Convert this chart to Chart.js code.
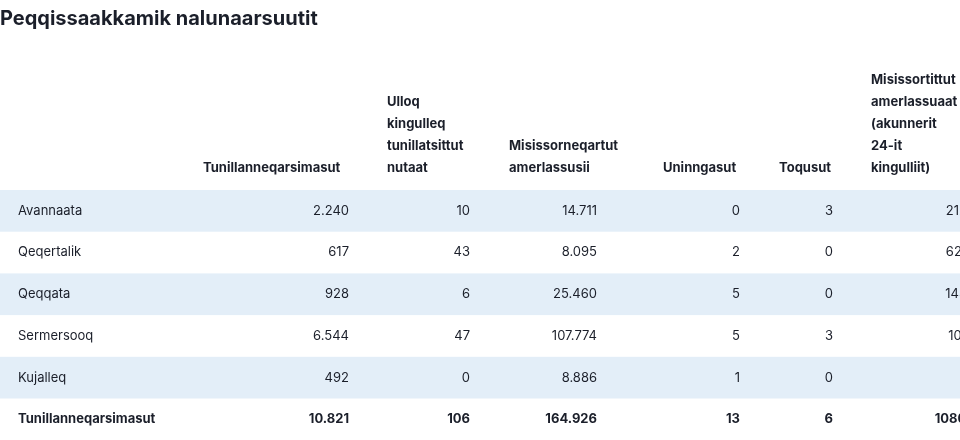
<!DOCTYPE html>
<html>
<head>
<meta charset="utf-8">
<script src="https://cdn.jsdelivr.net/npm/chart.js@4"></script>
<style>
  html, body { margin: 0; padding: 0; background: #fff; overflow: hidden; }
  #wrap { width: 960px; height: 440px; position: relative; }
</style>
</head>
<body>
<div id="wrap"><canvas id="tbl"></canvas></div>
<script>
// table data
const title = 'Peqqissaakkamik nalunaarsuutit';
const headers = [
  ['Tunillanneqarsimasut'],
  ['Ulloq', 'kingulleq', 'tunillatsittut', 'nutaat'],
  ['Misissorneqartut', 'amerlassusii'],
  ['Uninngasut'],
  ['Toqusut'],
  ['Misissortittut', 'amerlassuaat', '(akunnerit', '24-it', 'kingulliit)']
];
const regions = ['Avannaata', 'Qeqertalik', 'Qeqqata', 'Sermersooq', 'Kujalleq'];
const tunillanneqarsimasut = [2240, 617, 928, 6544, 492];
const ulloqKingulleq = [10, 43, 6, 47, 0];
const misissorneqartut = [14711, 8095, 25460, 107774, 8886];
const uninngasut = [0, 2, 5, 5, 1];
const toqusut = [3, 0, 0, 3, 0];
const misissortittut = [2128, 6215, 1436, 1021, 0];
const totalLabel = 'Tunillanneqarsimasut';

const columns = [tunillanneqarsimasut, ulloqKingulleq, misissorneqartut, uninngasut, toqusut, misissortittut];
const totals = columns.map(c => c.reduce((a, b) => a + b, 0));

// layout (pixels)
const colLeft = [203, 387, 509, 663, 779, 871];
const colRight = [349, 470, 597, 740, 833, 975];
const rowTop = 190, rowH = 41.7;
const fmt = v => v.toLocaleString('de-DE');
const font = '"Inter", "Noto Sans", sans-serif';

const tablePlugin = {
  id: 'table',
  afterDraw(chart) {
    const ctx = chart.ctx;
    ctx.save();
    ctx.fillStyle = '#1b1f2a';
    ctx.font = 'bold 20px ' + font;
    ctx.textBaseline = 'alphabetic';
    ctx.textAlign = 'left';
    ctx.fillText(title, 0, 25);

    // headers, bottom aligned
    ctx.font = 'bold 13px ' + font;
    headers.forEach((lines, i) => {
      lines.forEach((ln, j) => {
        const y = 172 - (lines.length - 1 - j) * 22;
        ctx.fillText(ln, colLeft[i], y);
      });
    });

    const rows = regions.length;
    for (let r = 0; r <= rows; r++) {
      const y0 = rowTop + r * rowH;
      if (r < rows && r % 2 === 0) {
        ctx.fillStyle = '#e3eef8';
        ctx.fillRect(0, y0, 960, rowH);
      }
      const isTotal = r === rows;
      ctx.fillStyle = '#1b1f2a';
      ctx.font = (isTotal ? 'bold ' : '') + '13px ' + font;
      ctx.textBaseline = 'middle';
      const yc = y0 + rowH / 2;
      ctx.textAlign = 'left';
      ctx.fillText(isTotal ? totalLabel : regions[r], 18, yc);
      ctx.textAlign = 'right';
      columns.forEach((col, c) => {
        const v = isTotal ? totals[c] : col[r];
        const s = c === 5 ? String(v) : fmt(v);
        ctx.fillText(s, colRight[c], yc);
      });
    }
    ctx.restore();
  }
};

new Chart(document.getElementById('tbl'), {
  type: 'bar',
  data: { labels: regions, datasets: [] },
  options: {
    responsive: true,
    maintainAspectRatio: false,
    animation: false,
    layout: { padding: 0 },
    plugins: { legend: { display: false }, tooltip: { enabled: false } },
    scales: { x: { display: false }, y: { display: false } }
  },
  plugins: [tablePlugin]
});
</script>
</body>
</html>
